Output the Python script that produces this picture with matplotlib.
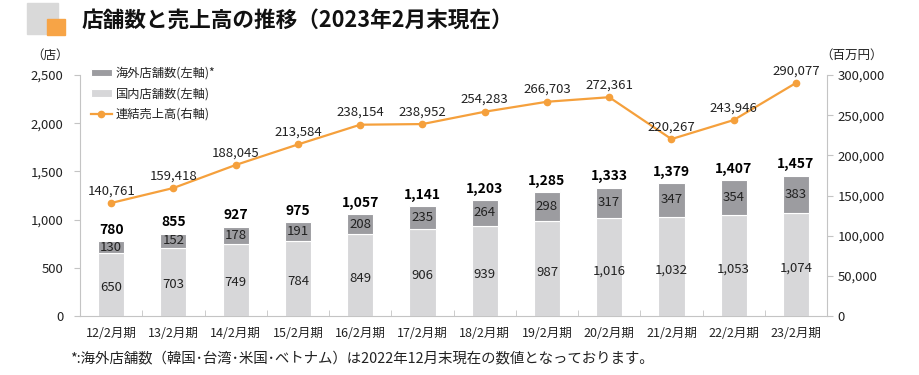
import matplotlib.pyplot as plt
from matplotlib.patches import Rectangle

plt.rcParams['font.family'] = ['Noto Sans CJK JP', 'DejaVu Sans']

periods = ['12/2月期', '13/2月期', '14/2月期', '15/2月期', '16/2月期', '17/2月期',
           '18/2月期', '19/2月期', '20/2月期', '21/2月期', '22/2月期', '23/2月期']
domestic = [650, 703, 749, 784, 849, 906, 939, 987, 1016, 1032, 1053, 1074]
overseas = [130, 152, 178, 191, 208, 235, 264, 298, 317, 347, 354, 383]
sales = [140761, 159418, 188045, 213584, 238154, 238952,
         254283, 266703, 272361, 220267, 243946, 290077]

c_dom = '#d7d7d9'
c_ovs = '#9c9ca0'
c_line = '#f5a03c'
c_spine = '#c4c4c4'
c_text = '#222222'

fig = plt.figure(figsize=(9.2, 3.75), dpi=100)
ax = fig.add_axes([0.087, 0.157, 0.812, 0.643])
ax2 = ax.twinx()
ax.set_zorder(2)
ax.patch.set_visible(False)

x = list(range(len(periods)))
w = 0.42
b1 = ax.bar(x, domestic, w, color=c_dom, edgecolor='white', linewidth=0.8)
b2 = ax.bar(x, overseas, w, bottom=domestic, color=c_ovs, edgecolor='white',
            linewidth=0.8)

for i in x:
    d, o = domestic[i], overseas[i]
    ax.text(i, d * 0.46, f'{d:,}', ha='center', va='center', fontsize=9.5, color=c_text)
    ax.text(i, d + o / 2, f'{o:,}', ha='center', va='center', fontsize=9.5, color=c_text)
    ax.text(i, d + o + 45, f'{d + o:,}', ha='center', va='bottom', fontsize=10,
            fontweight='bold', color='black')

ln, = ax2.plot(x, sales, color=c_line, lw=1.6, marker='o', ms=4.5)
for i in x:
    ax2.text(i, sales[i] + 7000, f'{sales[i]:,}', ha='center', va='bottom',
             fontsize=9.5, color=c_text)

ax.set_xlim(-0.5, len(periods) - 0.5)
ax.set_ylim(0, 2500)
ax2.set_ylim(0, 300000)
ax.set_yticks(range(0, 2501, 500))
ax.set_yticklabels([f'{v:,}' for v in range(0, 2501, 500)])
ax2.set_yticks(range(0, 300001, 50000))
ax2.set_yticklabels([f'{v:,}' for v in range(0, 300001, 50000)])

ax.set_xticks(x)
ax.set_xticklabels(periods)
ax.set_xticks([i + 0.5 for i in x[:-1]], minor=True)
ax.tick_params(axis='x', which='major', length=0, pad=8, labelsize=9, colors=c_text)
ax.tick_params(axis='x', which='minor', length=4, direction='in', color=c_spine)
ax.tick_params(axis='y', length=4, color=c_spine, labelsize=9.5, labelcolor=c_text, pad=8)
ax2.tick_params(axis='y', length=4, color=c_spine, labelsize=9.5, labelcolor=c_text)

for a in (ax, ax2):
    for s in a.spines.values():
        s.set_color(c_spine)
    a.spines['top'].set_visible(False)
ax.spines['right'].set_visible(False)
ax2.spines['left'].set_visible(False)
ax2.spines['bottom'].set_visible(False)

ax.legend([b2, b1, ln], ['海外店舗数(左軸)*', '国内店舗数(左軸)', '連結売上高(右軸)'],
          loc='upper left', bbox_to_anchor=(0.0, 1.08), frameon=False, fontsize=8.8,
          handlelength=1.7, handleheight=0.6, handletextpad=0.3, labelspacing=0.62,
          labelcolor=c_text)

fig.text(0.054, 0.853, '（店）', fontsize=9, ha='center', va='center', color=c_text)
fig.text(0.926, 0.853, '（百万円）', fontsize=9, ha='center', va='center', color=c_text)

# title with logo
fig.patches.append(Rectangle((0.029, 0.909), 0.034, 0.084, transform=fig.transFigure,
                             color='#d9d9d9', zorder=1))
fig.patches.append(Rectangle((0.051, 0.907), 0.02, 0.043, transform=fig.transFigure,
                             color='#f7a446', zorder=2))
fig.text(0.089, 0.947, '店舗数と売上高の推移（2023年2月末現在）', fontsize=15.6,
         fontweight='bold', va='center', color='#111111')

fig.text(0.076, 0.045, '*:海外店舗数（韓国･台湾･米国･ベトナム）は2022年12月末現在の数値となっております。',
         fontsize=10.4, va='center', color=c_text)

fig.savefig('out.png', dpi=100)
